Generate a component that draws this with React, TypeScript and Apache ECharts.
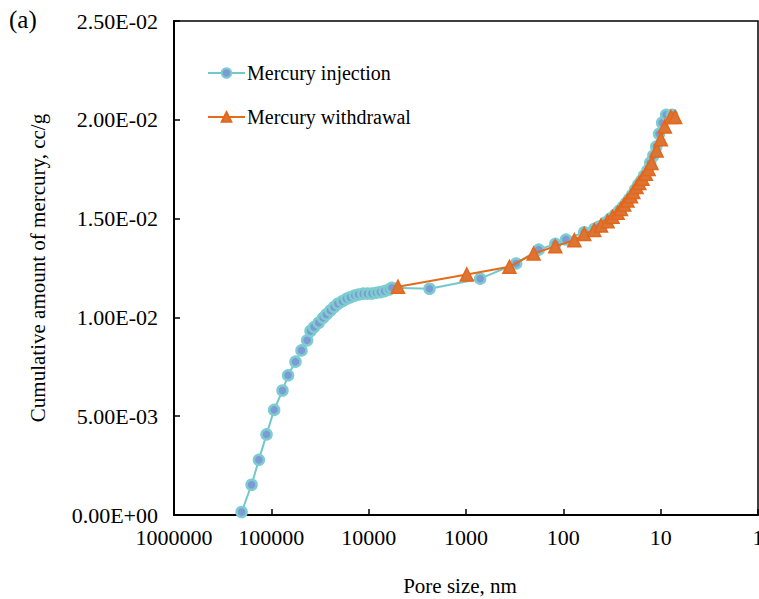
import React, { useEffect, useRef } from "react";
import * as echarts from "echarts";

// Pore size (nm) and cumulative amount of mercury (cc/g)
const injectionSize = [
  202000, 159600, 134300, 112000, 93600, 76800, 67300, 56500, 49000, 42900,
  39600, 36400, 32600, 29400, 27200, 24700, 22700, 20700, 18600, 16900,
  15400, 13900, 12700, 11400, 10300, 9250, 8330, 7590, 6850, 6190, 5770,
  2370, 715, 305, 179, 121, 94, 61, 48, 42.7, 37.1, 33.0, 29.3, 26.7, 24.3,
  22.6, 21.0, 19.6, 18.3, 17.0, 15.8, 14.8, 13.7, 12.8, 11.9, 11.1, 10.4,
  9.66, 8.79, 7.62,
];
const injectionVolume = [
  0.00015, 0.00153, 0.00279, 0.00408, 0.00532, 0.0063, 0.00707, 0.00776,
  0.00833, 0.00884, 0.00931, 0.00951, 0.00973, 0.00998, 0.01015, 0.01035,
  0.01052, 0.01069, 0.01082, 0.01094, 0.01102, 0.01111, 0.01116, 0.0112,
  0.0112, 0.01121, 0.01125, 0.01128, 0.01133, 0.01141, 0.0115, 0.01145,
  0.01196, 0.01273, 0.01343, 0.01372, 0.01394, 0.01431, 0.01448, 0.0146,
  0.0148, 0.015, 0.0152, 0.0154, 0.0156, 0.0158, 0.016, 0.0162, 0.01646,
  0.01672, 0.01692, 0.01717, 0.01742, 0.01783, 0.01818, 0.01864, 0.01929,
  0.01985, 0.02025, 0.02025,
];
const withdrawalSize = [
  5000, 982, 358, 202, 121, 77.1, 61.0, 48.1, 41.0, 35.1, 31.2, 27.7, 25.6,
  23.7, 21.9, 20.2, 19.1, 17.7, 16.6, 15.4, 14.2, 13.3, 12.4, 11.0, 9.95,
  9.06, 7.85, 7.1,
];
const withdrawalVolume = [
  0.01155, 0.01217, 0.01256, 0.01323, 0.0136, 0.01391, 0.01422, 0.01442,
  0.01465, 0.01486, 0.01509, 0.01529, 0.01549, 0.01571, 0.01591, 0.01613,
  0.01635, 0.0166, 0.0168, 0.01702, 0.01727, 0.01751, 0.01781, 0.01845,
  0.01902, 0.01966, 0.02014, 0.02014,
];
const seriesNames = ["Mercury injection", "Mercury withdrawal"];
const xTitle = "Pore size, nm";
const yTitle = "Cumulative amount of mercury, cc/g";
const panelLabel = "(a)";

const FONT = "'Liberation Serif', 'Times New Roman', serif";

function sci(v: number): string {
  if (v === 0) return "0.00E+00";
  const s = v.toExponential(2);
  const [m, e] = s.split("e");
  const n = parseInt(e, 10);
  const sign = n < 0 ? "-" : "+";
  const abs = Math.abs(n);
  return `${m}E${sign}${abs < 10 ? "0" + abs : abs}`;
}

export default function App() {
  const ref = useRef<HTMLDivElement>(null);
  useEffect(() => {
    if (!ref.current) return;
    const chart = echarts.init(ref.current, null, { renderer: "svg" });
    const inj = injectionSize.map((s, i) => [s, injectionVolume[i]]);
    const wd = withdrawalSize.map((s, i) => [s, withdrawalVolume[i]]);
    chart.setOption({
      animation: false,
      backgroundColor: "#fff",
      textStyle: { fontFamily: FONT, color: "#000" },
      title: {
        text: panelLabel,
        left: 4,
        top: 2,
        textStyle: { fontFamily: FONT, fontSize: 25, fontWeight: "normal", color: "#000" },
      },
      legend: {
        orient: "vertical",
        left: 207,
        top: 63,
        padding: 0,
        itemWidth: 37,
        itemHeight: 12,
        itemGap: 24,
        textStyle: { fontFamily: FONT, fontSize: 20, color: "#000", padding: [0, 0, 0, -3] },
        data: seriesNames,
      },
      grid: {
        left: 174,
        right: 1,
        top: 21,
        bottom: 84,
        show: true,
        borderColor: "#000",
        borderWidth: 1.5,
        outerBoundsMode: "none",
        containLabel: false,
      },
      xAxis: {
        type: "log",
        logBase: 10,
        min: 1,
        max: 1000000,
        inverse: true,
        name: xTitle,
        nameLocation: "middle",
        nameGap: 60,
        nameTextStyle: { fontFamily: FONT, fontSize: 21, color: "#000", padding: [0, 12, 0, 0] },
        axisLine: { lineStyle: { color: "#000", width: 2 } },
        axisTick: { inside: true, length: 6, lineStyle: { color: "#000", width: 1.5 } },
        splitLine: { show: false },
        minorTick: { show: false },
        axisLabel: {
          fontFamily: FONT,
          fontSize: 22,
          color: "#000",
          margin: 11,
          hideOverlap: false,
          formatter: (v: number) => String(Math.round(v)),
        },
      },
      yAxis: {
        type: "value",
        min: 0,
        max: 0.025,
        interval: 0.005,
        name: yTitle,
        nameLocation: "middle",
        nameRotate: 90,
        nameGap: 126,
        nameTextStyle: { fontFamily: FONT, fontSize: 21, color: "#000" },
        axisLine: { show: true, lineStyle: { color: "#000", width: 2 } },
        axisTick: { show: true, inside: true, length: 6, lineStyle: { color: "#000", width: 1.5 } },
        splitLine: { show: false },
        axisLabel: {
          fontFamily: FONT,
          fontSize: 22,
          color: "#000",
          margin: 16,
          formatter: (v: number) => sci(v),
        },
      },
      series: [
        {
          name: seriesNames[0],
          type: "line",
          data: inj,
          symbol: "circle",
          symbolSize: 10,
          lineStyle: { color: "#72C8CA", width: 2 },
          itemStyle: { color: "#7B9AD6", borderColor: "#7DCCCF", borderWidth: 2.5 },
          z: 2,
        },
        {
          name: seriesNames[1],
          type: "line",
          data: wd,
          symbol: "triangle",
          symbolSize: 13,
          lineStyle: { color: "#E46A1C", width: 2 },
          itemStyle: { color: "#DC7534", borderColor: "#E4661A", borderWidth: 1.5 },
          z: 3,
        },
      ],
    });
    return () => chart.dispose();
  }, []);
  return (
    <div
      ref={ref}
      style={{ position: "fixed", left: 0, top: 0, width: 759, height: 599 }}
    />
  );
}
